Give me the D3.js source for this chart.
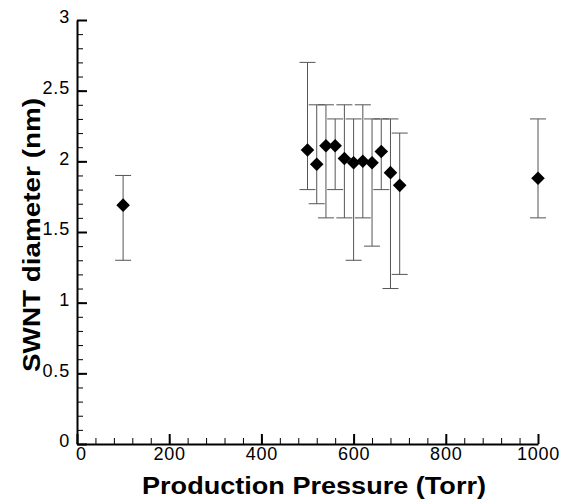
<!DOCTYPE html>
<html>
<head>
<meta charset="utf-8">
<script src="https://cdn.jsdelivr.net/npm/d3@7"></script>
<style>
  body { margin: 0; background: #fff; }
  svg { display: block; }
  .axis text { font-family: "Liberation Sans", Arial, sans-serif; font-size: 18px; letter-spacing: 0.8px; fill: #000; }
  .title { font-family: "Liberation Sans", Arial, sans-serif; font-size: 23px; font-weight: bold; fill: #000; }
</style>
</head>
<body>
<svg id="chart" width="566" height="501"></svg>
<script>
"use strict";

// data
const pressure = [100, 500, 520, 540, 560, 580, 600, 620, 640, 660, 680, 700, 1000];
const diameter = [1.69, 2.08, 1.98, 2.11, 2.11, 2.02, 1.99, 2.00, 1.99, 2.07, 1.92, 1.83, 1.88];
const errLow   = [1.3, 1.8, 1.7, 1.6, 1.8, 1.6, 1.3, 1.6, 1.4, 1.8, 1.1, 1.2, 1.6];
const errHigh  = [1.9, 2.7, 2.4, 2.4, 2.3, 2.4, 2.3, 2.4, 2.3, 2.3, 2.3, 2.2, 2.3];

const xTicks = [0, 200, 400, 600, 800, 1000];
const yTicks = [0, 0.5, 1, 1.5, 2, 2.5, 3];

let svg = d3.select("#chart"),
    margin = {top: 20, right: 28, bottom: 57, left: 77},
    width = svg.attr("width") - margin.left - margin.right,
    height = svg.attr("height") - margin.top - margin.bottom,
    g = svg.append("g").attr("transform", `translate(${margin.left},${margin.top})`);

let x = d3.scaleLinear().domain([0, 1000]).range([0, width]);
let y = d3.scaleLinear().domain([0, 3]).range([height, 0]);

let data = pressure.map((p, i) => ({p: p, d: diameter[i], lo: errLow[i], hi: errHigh[i]}));

// minor ticks first (inward)
g.append("g")
  .attr("class", "axis")
  .attr("transform", `translate(0,${height})`)
  .call(d3.axisBottom(x).tickValues(d3.range(0, 1001, 40)).tickSize(-6).tickSizeOuter(0).tickFormat(""))
  .call(a => a.select(".domain").remove())
  .selectAll("line").attr("stroke-width", 1);

g.append("g")
  .attr("class", "axis")
  .call(d3.axisLeft(y).tickValues(d3.range(0, 3.001, 0.1)).tickSize(-6).tickSizeOuter(0).tickFormat(""))
  .call(a => a.select(".domain").remove())
  .selectAll("line").attr("stroke-width", 1);

// major ticks and labels
let xa = g.append("g")
  .attr("class", "axis")
  .attr("transform", `translate(0,${height})`)
  .call(d3.axisBottom(x).tickValues(xTicks).tickSize(-10).tickSizeOuter(0).tickFormat(d3.format("d")));
xa.select(".domain").attr("stroke-width", 2);
xa.selectAll(".tick line").attr("stroke-width", 2);
xa.selectAll(".tick text").attr("y", 3).attr("dy", "0.71em");
xa.selectAll(".tick text").filter(d => d === 0).attr("dx", 4);

let ya = g.append("g")
  .attr("class", "axis")
  .call(d3.axisLeft(y).tickValues(yTicks).tickSize(-10).tickSizeOuter(0).tickPadding(7).tickFormat(d => d));
ya.select(".domain").attr("stroke-width", 2);
ya.selectAll(".tick line").attr("stroke-width", 2);
ya.selectAll(".tick text").attr("dy", "0.15em");

// error bars
let eb = g.selectAll(".err").data(data).enter().append("g").attr("class", "err")
  .attr("stroke", "#555").attr("stroke-width", 1);
eb.append("line")
  .attr("x1", d => x(d.p)).attr("x2", d => x(d.p))
  .attr("y1", d => y(d.lo)).attr("y2", d => y(d.hi));
eb.append("line")
  .attr("x1", d => x(d.p) - 8).attr("x2", d => x(d.p) + 8)
  .attr("y1", d => y(d.lo)).attr("y2", d => y(d.lo));
eb.append("line")
  .attr("x1", d => x(d.p) - 8).attr("x2", d => x(d.p) + 8)
  .attr("y1", d => y(d.hi)).attr("y2", d => y(d.hi));

// diamond markers
g.selectAll(".pt").data(data).enter().append("path")
  .attr("class", "pt")
  .attr("d", d3.symbol().type(d3.symbolSquare).size(92))
  .attr("transform", d => `translate(${x(d.p)},${y(d.d)}) rotate(45)`)
  .attr("fill", "#000");

// axis titles
svg.append("text")
  .attr("class", "title")
  .attr("x", 314)
  .attr("y", 494)
  .attr("text-anchor", "middle")
  .attr("textLength", 344)
  .attr("lengthAdjust", "spacingAndGlyphs")
  .text("Production Pressure (Torr)");

svg.append("text")
  .attr("class", "title")
  .attr("transform", `translate(40,235) rotate(-90)`)
  .attr("text-anchor", "middle")
  .attr("textLength", 274)
  .attr("lengthAdjust", "spacingAndGlyphs")
  .text("SWNT diameter (nm)");
</script>
</body>
</html>
